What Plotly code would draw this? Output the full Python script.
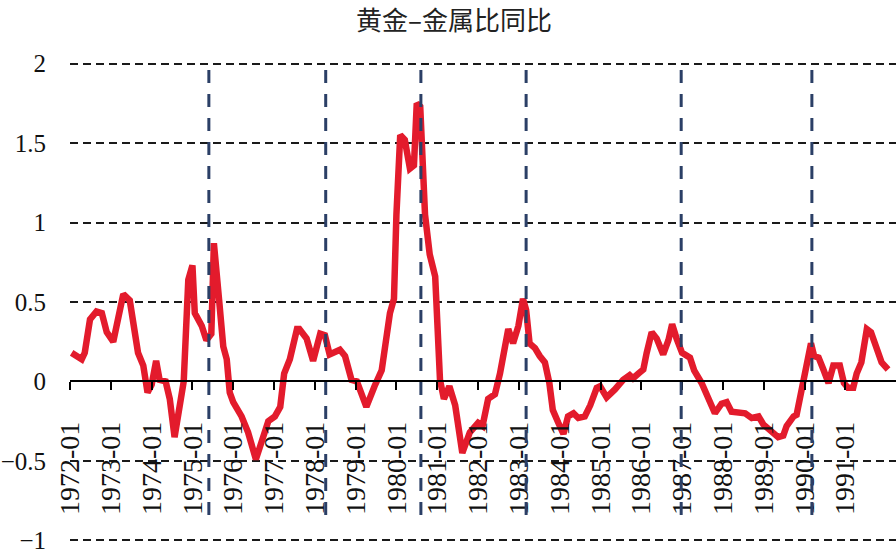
import plotly.graph_objects as go

title_text = "黄金–金属比同比"

dates = [
    "1972-01-16", "1972-04-15", "1972-05-12", "1972-06-28", "1972-08-25", "1972-10-12", "1972-11-25",
    "1973-01-22", "1973-04-22", "1973-06-19", "1973-09-01", "1973-10-18", "1973-11-25",
    "1974-01-01", "1974-02-10", "1974-03-13", "1974-05-06", "1974-06-12", "1974-07-25", "1974-09-12",
    "1974-10-15", "1974-11-25",
    "1975-01-01", "1975-01-22", "1975-03-25", "1975-05-06", "1975-06-19", "1975-07-12", "1975-08-06",
    "1975-08-28", "1975-10-04", "1975-11-04", "1975-12-01",
    "1976-01-01", "1976-03-16", "1976-05-13", "1976-07-22", "1976-09-13", "1976-11-10",
    "1977-01-08", "1977-02-25", "1977-04-01", "1977-05-22", "1977-07-25", "1977-08-15", "1977-10-19",
    "1977-12-16",
    "1978-02-18", "1978-04-01", "1978-05-13", "1978-08-13", "1978-09-28", "1978-11-25",
    "1979-01-12", "1979-04-07", "1979-06-19", "1979-08-22", "1979-11-04", "1979-12-10",
    "1980-01-01", "1980-02-04", "1980-03-16", "1980-05-01", "1980-06-06", "1980-07-01", "1980-08-01",
    "1980-08-13", "1980-09-13", "1980-10-25", "1980-12-13",
    "1981-01-25", "1981-03-01", "1981-04-19", "1981-06-10", "1981-08-13", "1981-10-19",
    "1982-01-01", "1982-02-10", "1982-04-01", "1982-06-01", "1982-07-16", "1982-08-28", "1982-09-28",
    "1982-11-10", "1982-12-28",
    "1983-02-07", "1983-03-07", "1983-04-07", "1983-05-25", "1983-07-07", "1983-08-22", "1983-10-01",
    "1983-11-01", "1983-12-20",
    "1984-02-04", "1984-03-16", "1984-05-04", "1984-06-16", "1984-08-13", "1984-10-01", "1984-11-28",
    "1984-12-28",
    "1985-02-25", "1985-05-10", "1985-07-22", "1985-09-19", "1985-10-19", "1985-12-07",
    "1986-01-19", "1986-02-18", "1986-04-04", "1986-05-19", "1986-07-16", "1986-09-01", "1986-10-04",
    "1986-11-13",
    "1987-01-01", "1987-03-13", "1987-04-19", "1987-06-25", "1987-08-22", "1987-10-22", "1987-12-20",
    "1988-02-04", "1988-03-19", "1988-05-19", "1988-07-19", "1988-09-16", "1988-11-16", "1988-12-28",
    "1989-02-28", "1989-05-10", "1989-06-25", "1989-07-25", "1989-09-25", "1989-10-22", "1989-12-07",
    "1990-01-22", "1990-02-28", "1990-03-28", "1990-05-07", "1990-06-19", "1990-08-04", "1990-09-16",
    "1990-11-13", "1990-12-20",
    "1991-01-25", "1991-03-13", "1991-04-13", "1991-05-25", "1991-07-13", "1991-08-19", "1991-10-07",
    "1991-11-22", "1992-01-19",
]

values = [
    0.18, 0.14, 0.18, 0.39, 0.44, 0.43, 0.31,
    0.25, 0.55, 0.51, 0.18, 0.10, -0.07,
    -0.02, 0.13, 0.01, 0.00, -0.11, -0.35, -0.11,
    0.00, 0.64,
    0.73, 0.43, 0.35, 0.26, 0.30, 0.87, 0.72,
    0.51, 0.22, 0.14, -0.07,
    -0.13, -0.22, -0.32, -0.49, -0.36, -0.25,
    -0.22, -0.16, 0.05, 0.14, 0.33, 0.33, 0.27,
    0.13,
    0.30, 0.29, 0.17, 0.20, 0.16, 0.01,
    0.00, -0.16, -0.03, 0.07, 0.43, 0.52,
    1.05, 1.55, 1.52, 1.34, 1.36, 1.75, 1.73,
    1.51, 1.05, 0.80, 0.66,
    0.01, -0.11, -0.03, -0.15, -0.45, -0.32,
    -0.26, -0.28, -0.11, -0.08, 0.05, 0.24, 0.33,
    0.24, 0.35,
    0.52, 0.45, 0.24, 0.21, 0.16, 0.12, -0.01,
    -0.18, -0.26,
    -0.33, -0.22, -0.20, -0.23, -0.22, -0.15, -0.04,
    -0.03,
    -0.10, -0.05, 0.01, 0.04, 0.02, 0.05,
    0.075, 0.18, 0.31, 0.27, 0.17, 0.26, 0.36,
    0.27,
    0.18, 0.15, 0.07, -0.01, -0.10, -0.20, -0.14,
    -0.13, -0.19, -0.19, -0.20, -0.23, -0.22, -0.27,
    -0.31, -0.35, -0.34, -0.28, -0.22, -0.21, -0.05,
    0.12, 0.24, 0.16, 0.15, 0.075, -0.01, 0.10,
    0.10, -0.01,
    -0.04, -0.04, 0.05, 0.12, 0.33, 0.31, 0.20,
    0.12, 0.075,
]

vline_dates = ["1975-05-28", "1978-04-08", "1980-08-07", "1983-03-07", "1986-12-24", "1990-03-08"]
vline_top = 2.0
vline_bottom = -0.84

tick_years = list(range(1972, 1992))
tick_vals = [f"{y}-01-01" for y in tick_years]
tick_text = [f"{y}-01" for y in tick_years]
y_ticks = [-1, -0.5, 0, 0.5, 1, 1.5, 2]

y_min, y_max = -1.01, 2.01
x_range = ["1972-01-01", "1992-03-30"]

fig = go.Figure()
fig.add_trace(go.Scatter(
    x=dates, y=values, mode="lines",
    line=dict(color="#E31B2C", width=6.5),
    showlegend=False, hoverinfo="skip",
))

for d in vline_dates:
    fig.add_shape(
        type="line", xref="x", yref="y",
        x0=d, x1=d, y0=vline_bottom, y1=vline_top,
        line=dict(color="#2B3F66", width=3, dash="13px,11px"),
        layer="above",
    )

serif = "Liberation Serif, Times New Roman, serif"

fig.update_layout(
    width=896, height=554,
    margin=dict(l=70, r=0, t=62, b=9),
    paper_bgcolor="white", plot_bgcolor="white",
    title=dict(
        text=title_text,
        font=dict(family="Noto Sans CJK SC", size=26, color="#222222"),
        x=454 / 896, xref="container", xanchor="center",
        y=1 - 21 / 554, yref="container", yanchor="middle",
    ),
    xaxis=dict(
        type="date", range=x_range,
        tickmode="array", tickvals=tick_vals, ticktext=tick_text,
        tickangle=-90,
        tickfont=dict(family=serif, size=28, color="#111111"),
        ticks="outside", ticklen=8, tickwidth=2, tickcolor="black",
        showline=True, linecolor="black", linewidth=2,
        showgrid=False, zeroline=False,
        anchor="free", position=(0 - y_min) / (y_max - y_min),
        ticklabelstandoff=20,
    ),
    yaxis=dict(
        range=[y_min, y_max],
        anchor="free", position=0,
        tickmode="array", tickvals=y_ticks,
        tickfont=dict(family=serif, size=25, color="#111111"),
        ticklabeloverflow="allow",
        showgrid=True, gridcolor="#1a1a1a", gridwidth=2, griddash="8px,5px",
        zeroline=False, showline=False, ticks="",
        ticklabelstandoff=24,
    ),
)

fig.write_html("out.html")
